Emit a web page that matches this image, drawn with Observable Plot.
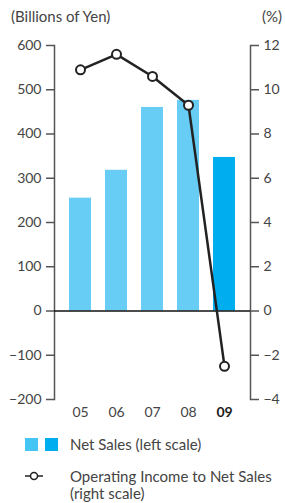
<!DOCTYPE html>
<html><head><meta charset="utf-8">
<script src="https://cdn.jsdelivr.net/npm/d3@7"></script>
<script src="https://cdn.jsdelivr.net/npm/@observablehq/plot@0.6"></script>
<style>
body{margin:0;background:#fff;font-family:Lato,"Open Sans",sans-serif;color:#444;width:285px;}
.hdr{position:relative;height:32px;font-size:15px;}
.hdr .l{position:absolute;left:11px;top:7px;}
.hdr .r{position:absolute;right:3px;top:7px;}
#chart svg{display:block;}
.leg{position:relative;height:76px;font-size:15px;}
.sw{position:absolute;width:13px;height:13px;}
.lt{position:absolute;left:70px;line-height:17px;}
</style></head>
<body>
<div class="hdr"><span class="l">(Billions of Yen)</span><span class="r">(%)</span></div>
<div id="chart"></div>
<div class="leg">
  <div class="sw" style="left:25px;top:11px;background:#45C5F4"></div>
  <div class="sw" style="left:45px;top:11px;background:#00AEEF"></div>
  <div class="lt" style="top:9px">Net Sales (left scale)</div>
  <svg style="position:absolute;left:24px;top:43px" width="20" height="12"><line x1="1" y1="6" x2="19" y2="6" stroke="#222" stroke-width="1.5"/><circle cx="10" cy="6" r="3.5" fill="#fff" stroke="#222" stroke-width="1.5"/></svg>
  <div class="lt" style="top:41px">Operating Income to Net Sales<br>(right scale)</div>
</div>
<script>
const years = ["05","06","07","08","09"];
const netSales = [255, 318, 460, 476, 347];
const opMargin = [10.9, 11.6, 10.6, 9.3, -2.5];
const leftTicks = [-200,-100,0,100,200,300,400,500,600];
const rightTicks = [-4,-2,0,2,4,6,8,10,12];
const ratio = 50; // 600 / 12

const data = years.map((y,i)=>({year:y, sales:netSales[i], pct:opMargin[i]}));
const fmt = v => String(v).replace("-","−");

const chart = Plot.plot({
  width: 285, height: 395,
  marginTop: 13, marginBottom: 28, marginLeft: 54, marginRight: 35,
  style: {fontFamily: "Lato, 'Open Sans', sans-serif", fontSize: "14px", color: "#444"},
  x: {domain: years, padding: 0.39, axis: null},
  y: {domain: [-200, 600], axis: null},
  marks: [
    Plot.barY(data, {x: "year", y: "sales", fill: d => d.year === "09" ? "#00AEEF" : "#68CDF5"}),
    Plot.frame({anchor: "left", stroke: "#555", strokeWidth: 1.5}),
    Plot.frame({anchor: "right", stroke: "#555", strokeWidth: 1.5}),
    Plot.axisY({anchor: "left", ticks: leftTicks, tickSize: 8, tickPadding: 5, strokeWidth: 1.5, stroke: "#555", tickFormat: fmt, label: null}),
    Plot.axisY({anchor: "right", ticks: rightTicks.map(v => v*ratio), tickSize: 8, tickPadding: 5, strokeWidth: 1.5, stroke: "#555", tickFormat: v => fmt(v/ratio), label: null}),
    Plot.axisX({ticks: years.slice(0,4), tickSize: 0, tickPadding: 8, label: null}),
    Plot.axisX({ticks: ["09"], tickSize: 0, tickPadding: 8, fontWeight: "bold", fill: "#222", label: null}),
    Plot.ruleY([0], {stroke: "#111", strokeWidth: 1.5}),
    Plot.line(data, {x: "year", y: d => d.pct*ratio, stroke: "#222", strokeWidth: 2.5}),
    Plot.dot(data, {x: "year", y: d => d.pct*ratio, r: 4.5, fill: "#fff", stroke: "#222", strokeWidth: 2})
  ]
});
document.getElementById("chart").append(chart);
</script>
</body></html>
